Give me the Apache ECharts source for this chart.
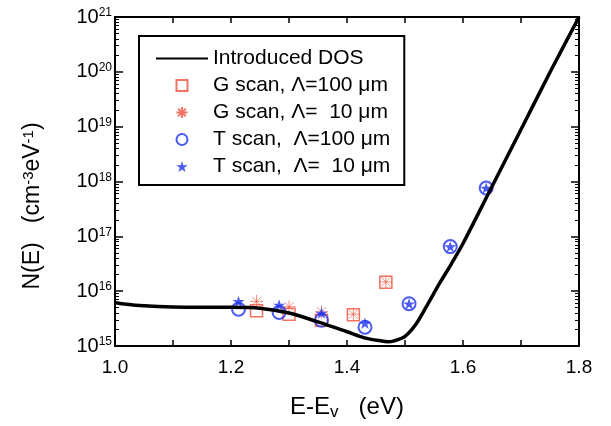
<!DOCTYPE html>
<html>
<head>
<meta charset="utf-8">
<script src="https://cdn.jsdelivr.net/npm/echarts@6/dist/echarts.min.js"></script>
<style>
html, body { margin: 0; padding: 0; background: #fff; }
#chart { width: 611px; height: 426px; }
</style>
</head>
<body>
<div id="chart"></div>
<script>
// introduced DOS curve (E-Ev in eV, N(E) in cm^-3 eV^-1)
var dosE = [1.00, 1.02, 1.05, 1.10, 1.15, 1.20, 1.25, 1.30, 1.35, 1.40, 1.43, 1.46, 1.47, 1.48, 1.50, 1.52, 1.54, 1.56, 1.58, 1.60, 1.65, 1.70, 1.75, 1.80];
var dosN = [6.2e15, 5.75e15, 5.4e15, 5.15e15, 5.1e15, 5.1e15, 4.9e15, 4.0e15, 2.75e15, 1.82e15, 1.41e15, 1.23e15, 1.2e15, 1.23e15, 1.5e15, 2.6e15, 6.0e15, 1.41e16, 3.16e16, 7.4e16, 8.1e17, 8.9e18, 9.8e19, 1.0e21];

// G scan points
var gE = [1.244, 1.300, 1.356, 1.411, 1.467];
var g100 = [4.4e15, 3.8e15, 2.95e15, 3.7e15, 1.45e16];
var g10 = [6.5e15, 5.2e15, 4.2e15, 3.8e15, 1.48e16];

// T scan points
var tE = [1.213, 1.283, 1.356, 1.431, 1.507, 1.578, 1.640];
var t100 = [4.7e15, 4.1e15, 2.95e15, 2.2e15, 5.9e15, 6.5e16, 7.6e17];
var t10 = [6.5e15, 5.6e15, 4.0e15, 2.6e15, 5.9e15, 6.5e16, 7.6e17];

var names = ['Introduced DOS', 'G scan, \u039b=100 \u03bcm', 'G scan, \u039b=  10 \u03bcm', 'T scan,  \u039b=100 \u03bcm', 'T scan,  \u039b=  10 \u03bcm'];

var red = '#f0503c';
var blue = '#1e32f0';
var font = 'Liberation Sans';

var squarePath = 'path://M-5,-5L5,-5L5,5L-5,5Z';
var starPath = 'path://M0,-10L2.245,-3.09L9.51,-3.09L3.633,1.18L5.88,8.09L0,3.82L-5.88,8.09L-3.633,1.18L-9.51,-3.09L-2.245,-3.09Z';
var asteriskPath = 'path://M0,-6L0,6M-6,0L6,0M-4.24,-4.24L4.24,4.24M-4.24,4.24L4.24,-4.24';

function pairs(xs, ys) {
  return xs.map(function (x, i) { return [x, ys[i]]; });
}

var chart = echarts.init(document.getElementById('chart'));

var xCommon = {
  type: 'value', min: 1.0, max: 1.8, interval: 0.1,
  axisLine: { lineStyle: { color: '#000', width: 2 } },
  axisTick: { inside: true, length: 6, lineStyle: { color: '#000', width: 1.5 } },
  splitLine: { show: false }
};
var yCommon = {
  type: 'log', logBase: 10, min: 1e15, max: 1e21,
  axisLine: { lineStyle: { color: '#000', width: 2 } },
  axisTick: { inside: true, length: 8, lineStyle: { color: '#000', width: 1.5 } },
  minorTick: { show: true, splitNumber: 9, length: 4, lineStyle: { color: '#000', width: 1 } },
  splitLine: { show: false }
};

chart.setOption({
  animation: false,
  backgroundColor: '#fff',
  grid: { left: 115, right: 32, top: 17, bottom: 80 },
  xAxis: [
    Object.assign({}, xCommon, {
      position: 'bottom',
      name: '{n|E-E}{sub|v}{n|   (eV)}',
      nameLocation: 'middle', nameGap: 48,
      nameTextStyle: {
        rich: {
          n: { fontFamily: font, fontSize: 24, color: '#000' },
          sub: { fontFamily: font, fontSize: 17, color: '#000', verticalAlign: 'bottom', padding: [10, 0, 0, 0] }
        }
      },
      axisLabel: {
        margin: 12, fontFamily: font, fontSize: 19, color: '#000',
        formatter: function (v) {
          return Math.round(v * 10) % 2 === 0 ? v.toFixed(1) : '';
        }
      }
    }),
    Object.assign({}, xCommon, { position: 'top', axisLabel: { show: false } })
  ],
  yAxis: [
    Object.assign({}, yCommon, {
      position: 'left',
      axisLabel: {
        margin: 3,
        formatter: function (v) {
          return '{b|10}{s|' + Math.round(Math.log10(v)) + '}';
        },
        rich: {
          b: { fontFamily: font, fontSize: 20, color: '#000' },
          s: { fontFamily: font, fontSize: 12, color: '#000', verticalAlign: 'top', padding: [0, 0, 6, 0] }
        }
      }
    }),
    Object.assign({}, yCommon, { position: 'right', axisLabel: { show: false } })
  ],
  legend: {
    orient: 'vertical', left: 139, top: 36,
    data: [
      { name: names[0], itemStyle: { color: 'rgba(0,0,0,0)', borderWidth: 0 } },
      names[1], names[2], names[3], names[4]
    ],
    itemWidth: 52, itemHeight: 11, itemGap: 6,
    padding: [12, 14, 8, 16],
    borderColor: '#000', borderWidth: 2,
    textStyle: { fontFamily: font, fontSize: 21, color: '#000', lineHeight: 21 }
  },
  graphic: [{
    type: 'text', x: 33, y: 206, rotation: Math.PI / 2,
    style: {
      text: '{n|N(E)   (cm}{s|-3}{n|eV}{s|-1}{n|)}',
      align: 'center', verticalAlign: 'middle',
      rich: {
        n: { fontFamily: font, fontSize: 23, fill: '#000' },
        s: { fontFamily: font, fontSize: 15, fill: '#000', verticalAlign: 'top', padding: [0, 0, 4, 0] }
      }
    }
  }],
  series: [
    {
      name: names[0], type: 'line', data: pairs(dosE, dosN),
      symbol: 'none', smooth: 0.3,
      lineStyle: { color: '#000', width: 3.5 },
      itemStyle: { color: '#000' }
    },
    {
      name: names[1], type: 'scatter', data: pairs(gE, g100),
      symbol: squarePath, symbolSize: 12, symbolKeepAspect: true,
      itemStyle: { color: 'rgba(0,0,0,0)', borderColor: red, borderWidth: 1.5 }
    },
    {
      name: names[2], type: 'scatter', data: pairs(gE, g10),
      symbol: asteriskPath, symbolSize: 13, symbolKeepAspect: true,
      itemStyle: { color: 'rgba(0,0,0,0)', borderColor: red, borderWidth: 0.8 }
    },
    {
      name: names[3], type: 'scatter', data: pairs(tE, t100),
      symbol: 'circle', symbolSize: 13,
      itemStyle: { color: 'rgba(0,0,0,0)', borderColor: blue, borderWidth: 2 }
    },
    {
      name: names[4], type: 'scatter', data: pairs(tE, t10),
      symbol: starPath, symbolSize: 12, symbolKeepAspect: true,
      itemStyle: { color: blue }
    }
  ]
});
</script>
</body>
</html>
